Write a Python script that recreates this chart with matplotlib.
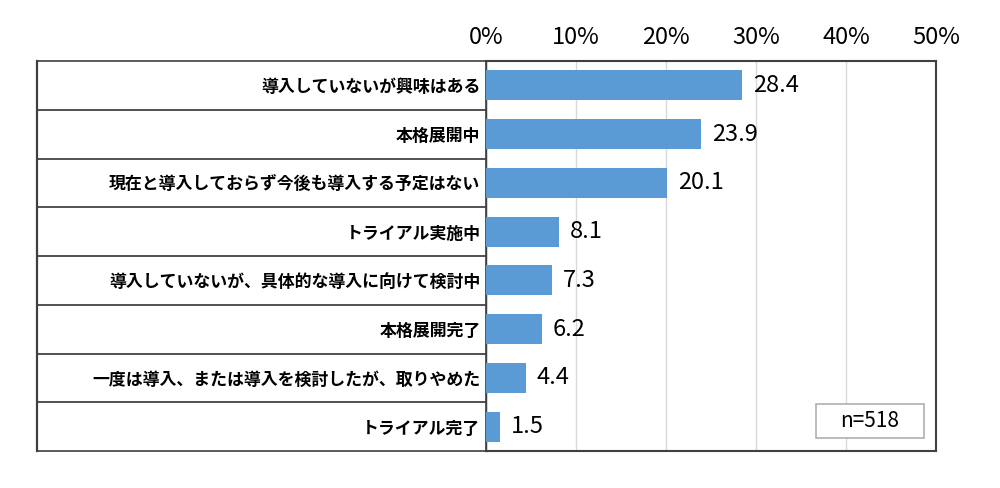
import matplotlib
matplotlib.use("Agg")
import matplotlib.pyplot as plt
from matplotlib.patches import Rectangle

plt.rcParams['font.family'] = ['Noto Sans CJK JP', 'DejaVu Sans']

categories = [
    "導入していないが興味はある",
    "本格展開中",
    "現在と導入しておらず今後も導入する予定はない",
    "トライアル実施中",
    "導入していないが、具体的な導入に向けて検討中",
    "本格展開完了",
    "一度は導入、または導入を検討したが、取りやめた",
    "トライアル完了",
]
values = [28.4, 23.9, 20.1, 8.1, 7.3, 6.2, 4.4, 1.5]
ticks = [0, 10, 20, 30, 40, 50]
tick_labels = ["0%", "10%", "20%", "30%", "40%", "50%"]
sample_note = "n=518"

bar_color = "#5B9BD5"
W, H = 1000, 488

fig = plt.figure(figsize=(W / 100, H / 100), dpi=100)

# geometry in pixels
left, right, top, bottom = 486, 936, 61, 451
tab_left = 37

ax = fig.add_axes([left / W, 1 - bottom / H, (right - left) / W, (bottom - top) / H])
tab = fig.add_axes([tab_left / W, 1 - bottom / H, (left - tab_left) / W, (bottom - top) / H],
                   zorder=-1)

n = len(categories)
ypos = list(range(n))

ax.barh(ypos, values, height=0.62, color=bar_color, zorder=3)
for y, v in zip(ypos, values):
    ax.annotate(f"{v:.1f}", xy=(v, y), xytext=(8, 0), textcoords="offset points",
                va="center", ha="left", fontsize=17, color="black")

ax.set_xlim(0, 50)
ax.set_ylim(n - 0.5, -0.5)
ax.set_xticks(ticks)
ax.set_xticklabels(tick_labels, fontsize=17)
ax.xaxis.tick_top()
ax.tick_params(axis="x", length=0, pad=9)
ax.grid(axis="x", color="#D9D9D9", linewidth=1, zorder=0)
ax.set_axisbelow(True)

ax.set_yticks(ypos)
ax.set_yticklabels(categories, fontsize=12.2, fontweight="bold")
ax.tick_params(axis="y", length=0, pad=4)
for s in ax.spines.values():
    s.set_color("#404040")
    s.set_linewidth(1.5)
ax.spines["left"].set_linewidth(1.0)

# table on the left
tab.set_xlim(0, 1)
tab.set_ylim(n - 0.5, -0.5)
tab.set_xticks([])
tab.set_yticks([])
for k in range(1, n):
    tab.axhline(k - 0.5, color="#333333", linewidth=1.2)
for s in tab.spines.values():
    s.set_color("#404040")
    s.set_linewidth(1.2)
tab.spines["left"].set_linewidth(1.6)

# sample size box
ax.add_patch(Rectangle((0.733, 0.034), 0.24, 0.086, transform=ax.transAxes,
                       facecolor="white", edgecolor="#B0B0B0", linewidth=1.2, zorder=4))
ax.text(0.853, 0.077, sample_note, transform=ax.transAxes, ha="center", va="center",
        fontsize=15, color="black", zorder=5)

fig.savefig("out.png", dpi=100)
